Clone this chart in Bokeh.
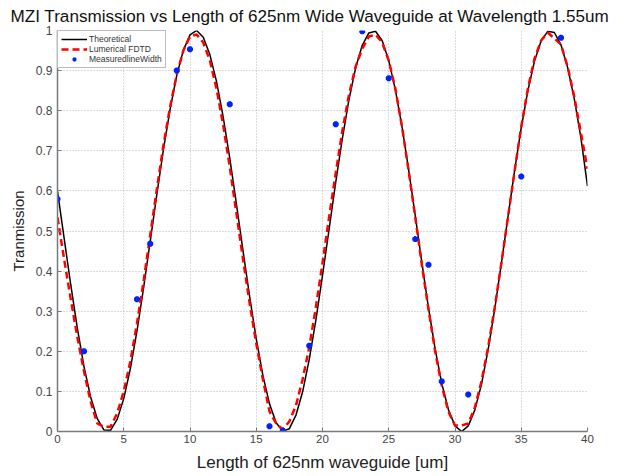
from bokeh.plotting import figure
from bokeh.models import FixedTicker, Legend, LegendItem, Range1d
from bokeh.embed import file_html
from bokeh.resources import INLINE

# ---------------- data ----------------
length_um = [0, 0.5, 1, 1.5, 2, 2.5, 3, 3.5, 4, 4.5, 5, 5.5, 6, 6.5, 7, 7.5, 8, 8.5, 9, 9.5,
             10, 10.5, 11, 11.5, 12, 12.5, 13, 13.5, 14, 14.5, 15, 15.5, 16, 16.5, 17, 17.5, 18, 18.5, 19, 19.5,
             20, 20.5, 21, 21.5, 22, 22.5, 23, 23.5, 24, 24.5, 25, 25.5, 26, 26.5, 27, 27.5, 28, 28.5, 29, 29.5,
             30, 30.5, 31, 31.5, 32, 32.5, 33, 33.5, 34, 34.5, 35, 35.5, 36, 36.5, 37, 37.5, 38, 38.5, 39, 39.5, 40]

theoretical = [0.599, 0.482, 0.366, 0.257, 0.162, 0.086, 0.032, 0.004, 0.003, 0.030,
               0.082, 0.157, 0.251, 0.359, 0.475, 0.592, 0.704, 0.804, 0.888, 0.951,
               0.989, 1.000, 0.983, 0.940, 0.873, 0.785, 0.682, 0.568, 0.451, 0.337,
               0.231, 0.140, 0.069, 0.022, 0.001, 0.007, 0.041, 0.099, 0.180, 0.278,
               0.389, 0.505, 0.622, 0.731, 0.828, 0.907, 0.963, 0.994, 0.998, 0.975,
               0.925, 0.852, 0.760, 0.653, 0.538, 0.421, 0.308, 0.206, 0.120, 0.055,
               0.014, 0.000, 0.014, 0.054, 0.118, 0.204, 0.306, 0.419, 0.536, 0.651,
               0.758, 0.850, 0.924, 0.974, 0.998, 0.995, 0.964, 0.908, 0.830, 0.733,
               0.612]

fdtd = [0.534, 0.430, 0.330, 0.235, 0.150, 0.075, 0.020, 0.012, 0.012, 0.045,
        0.100, 0.175, 0.270, 0.375, 0.490, 0.605, 0.715, 0.810, 0.890, 0.950,
        0.985, 0.990, 0.970, 0.925, 0.855, 0.765, 0.660, 0.545, 0.430, 0.320,
        0.220, 0.130, 0.050, 0.020, 0.005, 0.025, 0.065, 0.130, 0.210, 0.310,
        0.420, 0.535, 0.645, 0.750, 0.840, 0.910, 0.955, 0.985, 0.990, 0.970,
        0.925, 0.855, 0.760, 0.650, 0.535, 0.415, 0.305, 0.200, 0.115, 0.050,
        0.015, 0.015, 0.020, 0.060, 0.125, 0.210, 0.310, 0.420, 0.535, 0.650,
        0.760, 0.855, 0.930, 0.975, 0.995, 0.980, 0.965, 0.910, 0.835, 0.745,
        0.655]

meas_len = [0, 2, 6, 7, 9, 10, 13, 16, 17, 19, 21, 23, 25, 27, 28, 29, 31, 35, 38]
meas_T = [0.580, 0.200, 0.330, 0.468, 0.900, 0.953, 0.816, 0.013, 0.002, 0.214,
          0.766, 0.998, 0.881, 0.480, 0.416, 0.125, 0.092, 0.636, 0.982]

x_ticks = [0, 5, 10, 15, 20, 25, 30, 35, 40]
y_ticks = [0, 0.1, 0.2, 0.3, 0.4, 0.5, 0.6, 0.7, 0.8, 0.9, 1]
y_tick_labels = ["0", "0.1", "0.2", "0.3", "0.4", "0.5", "0.6", "0.7", "0.8", "0.9", "1"]

title_text = "MZI  Transmission vs Length of 625nm Wide Waveguide at Wavelength 1.55um"
FONT = "Liberation Sans"

p = figure(width=625, height=476, output_backend="svg", toolbar_location=None,
           x_range=Range1d(0, 40), y_range=Range1d(0, 1),
           min_border_left=57, min_border_right=38, min_border_top=30, min_border_bottom=45)

p.title.text = title_text
p.title.text_font = FONT
p.title.text_font_size = "17.1px"
p.title.text_font_style = "normal"
p.title.text_color = "#111111"
p.title.align = "left"
p.title.offset = -47
p.title.standoff = 9
p.title.vertical_align = "bottom"

p.outline_line_color = None
p.background_fill_color = "white"
p.border_fill_color = "white"

# grid
for g in (p.xgrid, p.ygrid):
    g.grid_line_color = "#b8b8b8"
    g.grid_line_dash = "1 2"
    g.grid_line_width = 1
p.xgrid.ticker = FixedTicker(ticks=x_ticks)
p.ygrid.ticker = FixedTicker(ticks=y_ticks)

# axes
p.xaxis.ticker = FixedTicker(ticks=x_ticks)
p.yaxis.ticker = FixedTicker(ticks=y_ticks)
p.yaxis.major_label_overrides = {t: s for t, s in zip(y_ticks, y_tick_labels)}
for ax in (p.xaxis[0], p.yaxis[0]):
    ax.axis_line_color = "#7a7a7a"
    ax.axis_line_width = 1.5
    ax.major_tick_line_color = "#7a7a7a"
    ax.major_tick_in = 4
    ax.major_tick_out = 0
    ax.minor_tick_line_color = None
    ax.major_label_text_font = FONT
    ax.major_label_text_color = "#444444"
    ax.axis_label_text_font = FONT
    ax.axis_label_text_font_style = "normal"
    ax.axis_label_text_color = "#222222"
p.xaxis.major_label_text_font_size = "11.5px"
p.yaxis.major_label_text_font_size = "12px"
p.xaxis.major_label_standoff = 3
p.yaxis.major_label_standoff = 5
p.xaxis.axis_label = "Length of 625nm waveguide [um]"
p.yaxis.axis_label = "Tranmission"
p.xaxis.axis_label_text_font_size = "17px"
p.yaxis.axis_label_text_font_size = "15px"
p.xaxis.axis_label_standoff = 7
p.yaxis.axis_label_standoff = 6

# renderers
r_th = p.line(length_um, theoretical, line_color="black", line_width=1.5)
r_fd = p.line(length_um, fdtd, line_color="#ff0000", line_width=2.5, line_dash="7 4")
r_me = p.scatter(meas_len, meas_T, marker="asterisk", size=6, line_color="#0022ff",
                 line_width=2.5)

legend = Legend(items=[LegendItem(label="Theoretical", renderers=[r_th]),
                       LegendItem(label="Lumerical FDTD", renderers=[r_fd]),
                       LegendItem(label="MeasuredlineWidth", renderers=[r_me])],
                location="top_left")
legend.margin = 0
legend.padding = 3
legend.spacing = 0
legend.label_height = 10
legend.glyph_height = 10
legend.glyph_width = 26
legend.label_standoff = 2
legend.label_text_font = FONT
legend.label_text_font_size = "8.5px"
legend.label_text_color = "#333333"
legend.border_line_color = "#7a7a7a"
legend.border_line_width = 1
legend.background_fill_color = "white"
legend.background_fill_alpha = 1
p.add_layout(legend)

open("out.html", "w").write(file_html(p, INLINE))
